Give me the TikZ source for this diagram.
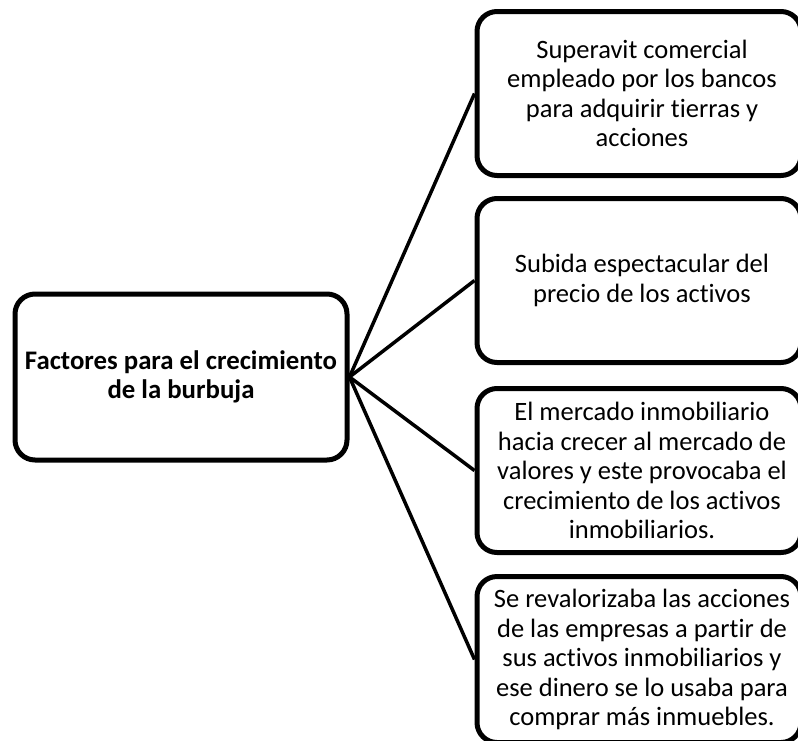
\documentclass[tikz,border=0pt]{standalone}
\usepackage{fontspec}
\setmainfont{Carlito}[Ligatures=NoCommon]
\begin{document}
\begin{tikzpicture}[x=1pt,y=-1pt,
  box/.style={draw=black, line width=5pt, rounded corners=20pt, fill=white, align=center, inner sep=0pt},
  leftbox/.style={box, minimum width=332pt, minimum height=166pt, font=\fontsize{26.8}{29}\selectfont\bfseries},
  rightbox/.style={box, minimum width=324pt, minimum height=164pt},
  rtext/.style={align=center, inner sep=0pt, font=\fontsize{26.5}{29.5}\selectfont},
  conn/.style={draw=black, line width=3.5pt}]
\useasboundingbox (0,0) rectangle (798,740);
\node[leftbox] (L) at (181,377) {Factores para el crecimiento\\de la burbuja};
\node[rightbox] (R1) at (639,93.5) {};
\node[rightbox] (R2) at (639,280.5) {};
\node[rightbox] (R3) at (639,470.5) {};
\node[rightbox, minimum height=166pt] (R4) at (639,659.5) {};
\node[rtext] (T1) at ([xshift=3pt]R1.center) {Superavit comercial\\empleado por los bancos\\para adquirir tierras y\\acciones};
\node[rtext] (T2) at ([xshift=3pt]R2.center) {Subida espectacular del\\precio de los activos};
\node[rtext] (T3) at ([xshift=3pt]R3.center) {El mercado inmobiliario\\hacia crecer al mercado de\\valores y este provocaba el\\crecimiento de los activos\\inmobiliarios.};
\node[rtext] (T4) at ([xshift=3pt]R4.center) {Se revalorizaba las acciones\\de las empresas a partir de\\sus activos inmobiliarios y\\ese dinero se lo usaba para\\comprar más inmuebles.};
\foreach \i in {1,2,3,4} \draw[conn] (L.east) -- (R\i.west);
\end{tikzpicture}
\end{document}
